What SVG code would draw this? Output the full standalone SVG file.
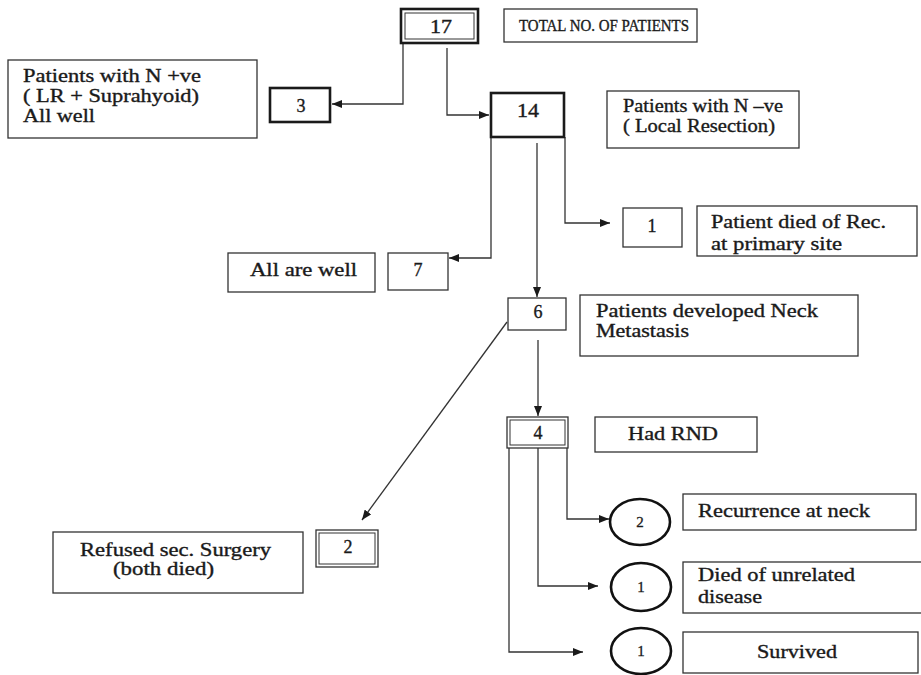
<svg xmlns="http://www.w3.org/2000/svg" width="921" height="675" viewBox="0 0 921 675">
<defs>
<style>
.box{fill:#fff;stroke:#333;stroke-width:1.3}
.thick{fill:#fff;stroke:#1a1a1a;stroke-width:2.6}
.thin{fill:none;stroke:#333;stroke-width:1}
.t{font-family:"Liberation Serif","Times New Roman",serif;font-size:18px;fill:#1a1a1a;stroke:#1a1a1a;stroke-width:0.35}
.n{font-family:"Liberation Serif","Times New Roman",serif;font-size:18px;fill:#1a1a1a;stroke:#1a1a1a;stroke-width:0.35;text-anchor:middle}
.cn{font-family:"Liberation Serif","Times New Roman",serif;font-size:15px;fill:#1a1a1a;stroke:#1a1a1a;stroke-width:0.3;text-anchor:middle}
.c{fill:#fff;stroke:#111;stroke-width:2.6}
.ln{fill:none;stroke:#333;stroke-width:1.3;marker-end:url(#ah)}
</style>
<marker id="ah" markerUnits="userSpaceOnUse" markerWidth="10" markerHeight="8" refX="10" refY="4" orient="auto">
<path d="M0,0 L10,4 L0,8 Z" fill="#1a1a1a"/>
</marker>
</defs>
<rect width="921" height="675" fill="#fff"/>

<g id="connectors">
<path class="ln" d="M403,44 V104 H332"/>
<path class="ln" d="M447,48 V115 H489"/>
<path class="ln" d="M491,137 V258 H449"/>
<path class="ln" d="M537,143 V297"/>
<path class="ln" d="M565,137 V223 H610"/>
<path class="ln" d="M507,322 L362,520"/>
<path class="ln" d="M538,340 V416"/>
<path class="ln" d="M567,448 V519 H609"/>
<path class="ln" d="M538,448 V586 H598"/>
<path class="ln" d="M509,448 V652 H583"/>
</g>

<g id="n17">
<rect class="thick" x="401" y="9" width="77" height="34"/>
<rect class="thin" x="405" y="13" width="69" height="26"/>
<text class="n" x="441" y="33" textLength="22" lengthAdjust="spacingAndGlyphs">17</text>
</g>
<g id="total">
<rect class="box" x="504" y="9" width="193" height="33"/>
<text class="t" x="519" y="31" style="font-size:16px" textLength="170" lengthAdjust="spacingAndGlyphs">TOTAL NO. OF PATIENTS</text>
</g>

<g id="npos">
<rect class="box" x="8" y="60" width="249" height="78"/>
<text class="t" x="23" y="82" textLength="178" lengthAdjust="spacingAndGlyphs">Patients with N +ve</text>
<text class="t" x="23" y="102" textLength="176" lengthAdjust="spacingAndGlyphs">( LR + Suprahyoid)</text>
<text class="t" x="23" y="122" textLength="72" lengthAdjust="spacingAndGlyphs">All well</text>
</g>
<g id="n3">
<rect class="thick" x="270" y="88" width="60" height="34"/>
<text class="n" x="301" y="112">3</text>
</g>

<g id="n14">
<rect class="thick" x="491" y="93" width="73" height="44"/>
<text class="n" x="528" y="117" textLength="22" lengthAdjust="spacingAndGlyphs">14</text>
</g>
<g id="nneg">
<rect class="box" x="607" y="91" width="192" height="57"/>
<text class="t" x="623" y="112" textLength="160" lengthAdjust="spacingAndGlyphs">Patients with N –ve</text>
<text class="t" x="623" y="132" textLength="152" lengthAdjust="spacingAndGlyphs">( Local Resection)</text>
</g>

<g id="n1rec">
<rect class="box" x="623" y="208" width="59" height="39"/>
<text class="n" x="652" y="232">1</text>
</g>
<g id="died-rec">
<rect class="box" x="697" y="206" width="220" height="50"/>
<text class="t" x="711" y="228" textLength="175" lengthAdjust="spacingAndGlyphs">Patient died of Rec.</text>
<text class="t" x="711" y="250" textLength="131" lengthAdjust="spacingAndGlyphs">at primary site</text>
</g>

<g id="allwell">
<rect class="box" x="228" y="253" width="147" height="39"/>
<text class="t" x="250" y="276" textLength="107" lengthAdjust="spacingAndGlyphs">All are well</text>
</g>
<g id="n7">
<rect class="box" x="388" y="253" width="60" height="37"/>
<text class="n" x="418" y="276">7</text>
</g>

<g id="n6">
<rect class="box" x="508" y="298" width="58" height="32"/>
<text class="n" x="538" y="318">6</text>
</g>
<g id="neckmet">
<rect class="box" x="580" y="295" width="278" height="61"/>
<text class="t" x="596" y="317" textLength="222" lengthAdjust="spacingAndGlyphs">Patients developed Neck</text>
<text class="t" x="596" y="337" textLength="93" lengthAdjust="spacingAndGlyphs">Metastasis</text>
</g>

<g id="n4">
<rect class="box" x="507" y="417" width="61" height="31"/>
<rect class="thin" x="510" y="420" width="55" height="25"/>
<text class="n" x="538" y="439">4</text>
</g>
<g id="rnd">
<rect class="box" x="595" y="417" width="162" height="35"/>
<text class="t" x="628" y="440" textLength="90" lengthAdjust="spacingAndGlyphs">Had RND</text>
</g>

<g id="refused">
<rect class="box" x="53" y="532" width="250" height="61"/>
<text class="t" x="80" y="556" textLength="191" lengthAdjust="spacingAndGlyphs">Refused sec. Surgery</text>
<text class="t" x="113" y="575" textLength="101" lengthAdjust="spacingAndGlyphs">(both died)</text>
</g>
<g id="n2">
<rect class="box" x="316" y="530" width="62" height="37"/>
<rect class="thin" x="319" y="533" width="56" height="31"/>
<text class="n" x="348" y="553">2</text>
</g>

<g id="c2">
<ellipse class="c" cx="640" cy="522" rx="30" ry="23"/>
<text class="cn" x="640" y="527">2</text>
</g>
<g id="recneck">
<rect class="box" x="683" y="494" width="233" height="36"/>
<text class="t" x="698" y="517" textLength="172" lengthAdjust="spacingAndGlyphs">Recurrence at neck</text>
</g>

<g id="c1a">
<ellipse class="c" cx="641" cy="587" rx="30" ry="24"/>
<text class="cn" x="641" y="592">1</text>
</g>
<g id="unrel">
<rect class="box" x="683" y="562" width="240" height="51"/>
<text class="t" x="698" y="581" textLength="157" lengthAdjust="spacingAndGlyphs">Died of unrelated</text>
<text class="t" x="698" y="603" textLength="64" lengthAdjust="spacingAndGlyphs">disease</text>
</g>

<g id="c1b">
<ellipse class="c" cx="641" cy="651" rx="30" ry="23"/>
<text class="cn" x="641" y="656">1</text>
</g>
<g id="survived">
<rect class="box" x="683" y="632" width="235" height="41"/>
<text class="t" x="757" y="658" textLength="80" lengthAdjust="spacingAndGlyphs">Survived</text>
</g>
</svg>
